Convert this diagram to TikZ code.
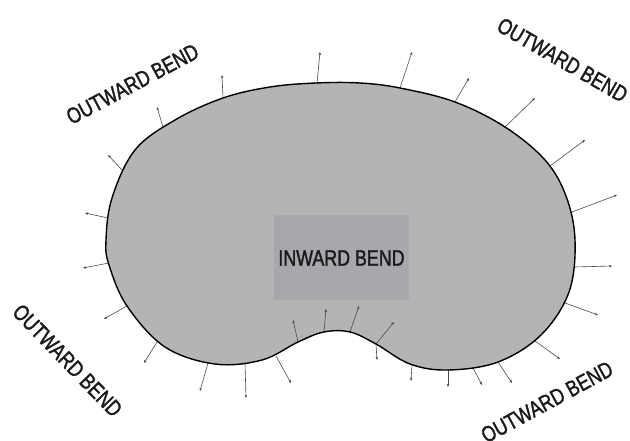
\documentclass[tikz,border=0pt]{standalone}
\usepackage{fontspec}
\setmainfont{Liberation Sans}[FakeStretch=0.8,FakeBold=1.5]
\usetikzlibrary{arrows.meta}
\definecolor{shapegray}{HTML}{B4B4B4}
\definecolor{boxgray}{HTML}{A7A8AC}
\definecolor{arrowgray}{HTML}{4A4A4A}
\definecolor{textdark}{HTML}{1A1A1A}
\tikzset{
  normalarrow/.style={draw=arrowgray, line width=0.6pt, -{Stealth[length=3.2pt,width=2.6pt]}},
  bendlabel/.style={inner sep=0pt, text=textdark, font=\fontsize{22.3}{26}\selectfont},
  blobpath/.style={smooth cycle, tension=0.6}
}
\newcommand{\blobpoints}{(106,240) (112,198) (135,150) (175,120) (223,98) (270,87)
 (316,83) (360,83) (400,88) (455,102) (505,127) (545,160) (566,196)
 (575,240) (569,292) (541,335) (498,362) (448,370) (410,364)
 (376,344) (350,332) (324,332) (298,342) (262,360) (215,364)
 (165,347) (127,306) (109,265)}
\begin{document}
\begin{tikzpicture}[x=1pt,y=-1pt]
\useasboundingbox (0,0) rectangle (630,441);
\fill[white] (0,0) rectangle (630,441);
% shape fill
\path[fill=shapegray] plot[blobpath] coordinates {\blobpoints};
% inward bend box
\fill[boxgray] (274,215) rectangle (409,300);
\node[bendlabel] (inward) at (341.5,258) {INWARD BEND};
% arrows
\draw[normalarrow] (223,98) -- (222,75);
\draw[normalarrow] (163,127) -- (157,107);
\draw[normalarrow] (122,170) -- (108,155);
\draw[normalarrow] (108,218) -- (85,213);
\draw[normalarrow] (317,83) -- (320,52);
\draw[normalarrow] (400,88) -- (412,52);
\draw[normalarrow] (455,102) -- (469,78);
\draw[normalarrow] (505,127) -- (535,98);
\draw[normalarrow] (550,166) -- (585,140);
\draw[normalarrow] (572,212) -- (617,195);
\draw[normalarrow] (575,267) -- (612,266);
\draw[normalarrow] (565,303) -- (598,315);
\draw[normalarrow] (535,341) -- (560,359);
\draw[normalarrow] (498,362) -- (512,383);
\draw[normalarrow] (473,368) -- (482,385);
\draw[normalarrow] (448,370) -- (448,387);
\draw[normalarrow] (412,365) -- (411,381);
\draw[normalarrow] (376,344) -- (394,322);
\draw[normalarrow] (376,344) -- (377,360);
\draw[normalarrow] (350,332) -- (359,306);
\draw[normalarrow] (324,332) -- (326,309);
\draw[normalarrow] (298,342) -- (293,320);
\draw[normalarrow] (276,356) -- (291,383);
\draw[normalarrow] (245,363) -- (246,398);
\draw[normalarrow] (208,363) -- (200,391);
\draw[normalarrow] (157,342) -- (144,363);
\draw[normalarrow] (127,306) -- (104,319);
\draw[normalarrow] (109,263) -- (83,268);
% outline
\draw[draw=black, line width=1.4pt] plot[blobpath] coordinates {\blobpoints};
% labels
\node[bendlabel, rotate=28] (tl) at (132.5,84) {OUTWARD BEND};
\node[bendlabel, rotate=-30] (tr) at (562.5,60) {OUTWARD BEND};
\node[bendlabel, rotate=-46] (bl) at (67.5,360.5) {OUTWARD BEND};
\node[bendlabel, rotate=28.5] (br) at (547,402) {OUTWARD BEND};
\end{tikzpicture}
\end{document}
